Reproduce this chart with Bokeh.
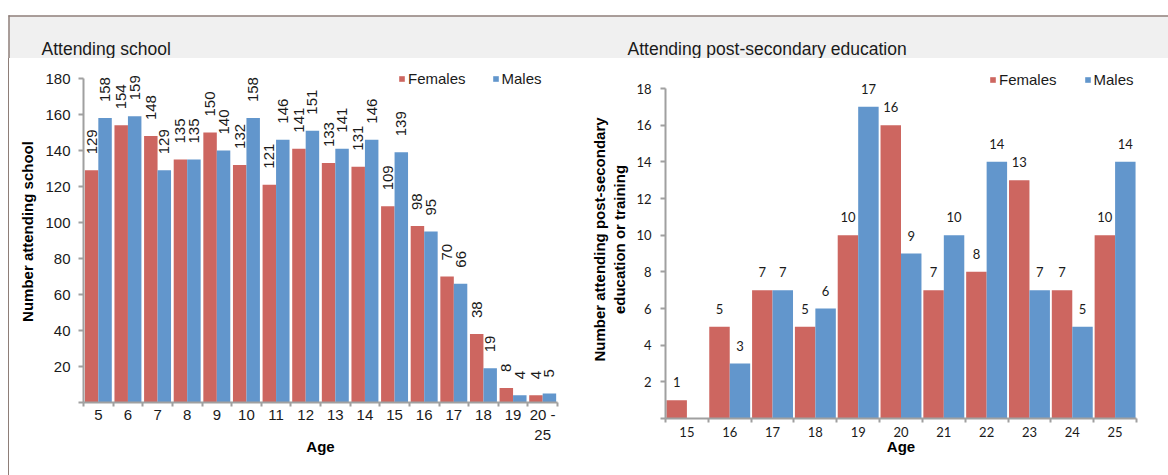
import math
from bokeh.plotting import figure
from bokeh.models import Range1d, FixedTicker, ColumnDataSource, LabelSet, Spacer, Div
from bokeh.layouts import row, column
from bokeh.embed import file_html
from bokeh.resources import INLINE
from bokeh.core.properties import value

# ---------------- data ----------------
titles = ["Attending school", "Attending post-secondary education"]

school_ages = ["5", "6", "7", "8", "9", "10", "11", "12", "13", "14", "15",
               "16", "17", "18", "19", "20 -\n25"]
school_females = [129, 154, 148, 135, 150, 132, 121, 141, 133, 131, 109, 98, 70, 38, 8, 4]
school_males = [158, 159, 129, 135, 140, 158, 146, 151, 141, 146, 139, 95, 66, 19, 4, 5]
school_yticks = [0, 20, 40, 60, 80, 100, 120, 140, 160, 180]

post_ages = ["15", "16", "17", "18", "19", "20", "21", "22", "23", "24", "25"]
post_females = [1, 5, 7, 5, 10, 16, 7, 8, 13, 7, 10]
post_males = [0, 3, 7, 6, 17, 9, 10, 14, 7, 5, 14]
post_yticks = [0, 2, 4, 6, 8, 10, 12, 14, 16, 18]

# ---------------- style ----------------
RED = "#CD6660"
BLUE = "#6296CC"
AXIS = "#A0A0A0"
FRAME = "#8E7E78"
BAND = "#F0F0F0"
TXT = "#1a1a1a"
ARIAL = "Liberation Sans"
CALIBRI = "Lato"


def bar_chart(ages, females, males, yticks, *, width, height, left, right, top, bottom,
              y_end, bar_w, tick_font, tick_size, x_standoff, y_standoff, ylabel,
              ylabel_standoff, xlabel_standoff, rotated, label_font, label_size,
              label_offset, legend_xy, legend_spacing):
    n = len(ages)
    p = figure(width=width, height=height, output_backend="svg", toolbar_location=None,
               x_range=Range1d(0, n), y_range=Range1d(0, y_end),
               min_border_left=left, min_border_right=right,
               min_border_top=top, min_border_bottom=bottom,
               background_fill_color="white", border_fill_color="white",
               outline_line_color=None)
    centers = [i + 0.5 for i in range(n)]
    xf = [c - bar_w / 2 for c in centers]
    xm = [c + bar_w / 2 for c in centers]
    src = ColumnDataSource(dict(xf=xf, xm=xm, f=females, m=males))
    p.vbar(x="xf", top="f", width=bar_w, source=src, fill_color=RED,
           line_color=None, legend_label="Females")
    p.vbar(x="xm", top="m", width=bar_w, source=src, fill_color=BLUE,
           line_color=None, legend_label="Males")

    lx, ly, lt = [], [], []
    for xs, vals in ((xf, females), (xm, males)):
        for x, v in zip(xs, vals):
            if v > 0:
                lx.append(x)
                ly.append(v)
                lt.append(str(v))
    lsrc = ColumnDataSource(dict(x=lx, y=ly, t=lt))
    labels = LabelSet(x="x", y="y", text="t", source=lsrc, y_offset=label_offset,
                      angle=math.pi / 2 if rotated else 0,
                      text_align="left" if rotated else "center",
                      text_baseline="middle", text_font=value(label_font),
                      text_font_size=label_size, text_color=TXT)
    p.add_layout(labels)

    p.grid.visible = False

    xa = p.xaxis[0]
    xa.ticker = FixedTicker(ticks=centers, minor_ticks=list(range(n + 1)))
    xa.major_label_overrides = {c: a for c, a in zip(centers, ages)}
    xa.major_tick_line_color = None
    xa.major_tick_out = 0
    xa.major_tick_in = 0
    xa.minor_tick_line_color = AXIS
    xa.minor_tick_line_width = 2
    xa.minor_tick_out = 4
    xa.minor_tick_in = 0
    xa.axis_line_color = AXIS
    xa.axis_line_width = 2
    xa.major_label_standoff = x_standoff
    xa.major_label_text_font = tick_font
    xa.major_label_text_font_size = tick_size
    xa.major_label_text_color = TXT
    xa.axis_label = "Age"
    xa.axis_label_text_font = ARIAL
    xa.axis_label_text_font_style = "bold"
    xa.axis_label_text_font_size = "15px"
    xa.axis_label_text_color = "black"
    xa.axis_label_standoff = xlabel_standoff

    ya = p.yaxis[0]
    ya.ticker = FixedTicker(ticks=yticks)
    ya.bounds = (yticks[0], yticks[-1])
    ya.major_label_overrides = {0: ""}
    ya.major_tick_out = 5
    ya.major_tick_in = 0
    ya.major_tick_line_color = AXIS
    ya.major_tick_line_width = 2
    ya.minor_tick_line_color = None
    ya.axis_line_color = AXIS
    ya.axis_line_width = 2
    ya.major_label_standoff = y_standoff
    ya.major_label_text_font = tick_font
    ya.major_label_text_font_size = tick_size
    ya.major_label_text_color = TXT
    ya.axis_label = ylabel
    ya.axis_label_text_font = ARIAL
    ya.axis_label_text_font_style = "bold"
    ya.axis_label_text_font_size = "15px"
    ya.axis_label_text_color = "black"
    ya.axis_label_standoff = ylabel_standoff

    lg = p.legend[0]
    lg.orientation = "horizontal"
    lg.location = legend_xy
    lg.background_fill_alpha = 0
    lg.border_line_color = None
    lg.padding = 0
    lg.margin = 0
    lg.spacing = legend_spacing
    lg.glyph_width = 7
    lg.glyph_height = 7
    lg.label_standoff = 3
    lg.label_height = 15
    lg.label_width = 10
    lg.label_text_font = ARIAL
    lg.label_text_font_size = "15px"
    lg.label_text_color = TXT
    return p


# frame px: left chart 0..180 spans 324 px, frame 342 px tall
p1 = bar_chart(school_ages, school_females, school_males, school_yticks,
               width=579, height=401, left=74, right=31, top=2, bottom=57,
               y_end=180 * 342 / 324, bar_w=0.455, tick_font=ARIAL, tick_size="15px",
               x_standoff=-1, y_standoff=8, ylabel="Number attending school",
               ylabel_standoff=6, xlabel_standoff=-8, rotated=True,
               label_font=ARIAL, label_size="15px", label_offset=16,
               legend_xy=(315, 315), legend_spacing=26)

# right chart 0..18 spans 330 px, frame 358 px tall
p2 = bar_chart(post_ages, post_females, post_males, post_yticks,
               width=580, height=417, left=70, right=32, top=2, bottom=57,
               y_end=18 * 358 / 330, bar_w=0.478, tick_font=CALIBRI, tick_size="13px",
               x_standoff=4, y_standoff=9,
               ylabel="Number attending post-secondary\neducation or training",
               ylabel_standoff=5, xlabel_standoff=-2, rotated=False,
               label_font=CALIBRI, label_size="13px", label_offset=18,
               legend_xy=(324, 330), legend_spacing=27)

# header band with titles and frame border
hdr = figure(width=1168, height=58, x_range=Range1d(0, 1168), y_range=Range1d(0, 58),
             min_border=0, toolbar_location=None, output_backend="svg",
             x_axis_location=None, y_axis_location=None, outline_line_color=None,
             background_fill_color="white", border_fill_color="white")
hdr.grid.visible = False
hdr.quad(left=9, right=1168, bottom=0, top=42, fill_color=BAND, line_color=None)
hdr.segment(x0=8, y0=42.5, x1=1168, y1=42.5, line_color=FRAME, line_width=1.5)
hdr.segment(x0=8.5, y0=0, x1=8.5, y1=43.2, line_color=FRAME, line_width=1.5)
hdr.text(x=[41, 627], y=[10, 10], text=titles, text_font=value(ARIAL),
         text_font_size="17.5px", text_baseline="middle", text_color=TXT)

gap = Spacer(width=8, height=417, margin=0)
edge = Div(text="", width=1, height=417, margin=0,
           styles={"background-color": FRAME})

layout = column(hdr, row(gap, edge, p1, p2))

open("out.html", "w").write(file_html(layout, INLINE))
